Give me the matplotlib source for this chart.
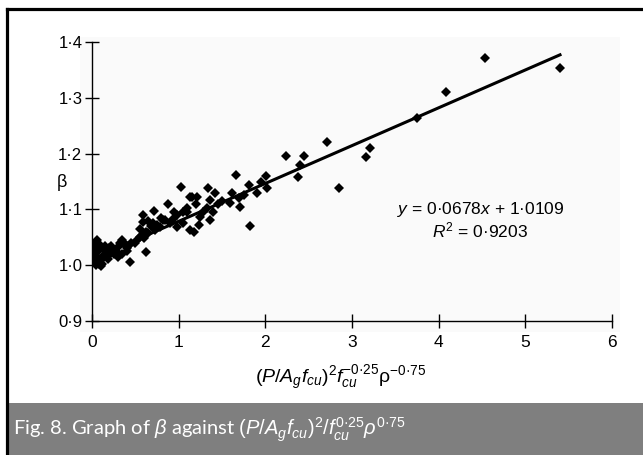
import matplotlib
matplotlib.use("Agg")
import matplotlib.pyplot as plt
import numpy as np
from matplotlib.patches import Rectangle

plt.rcParams['font.family'] = ['Liberation Sans', 'DejaVu Sans']
plt.rcParams['mathtext.fontset'] = 'custom'
plt.rcParams['mathtext.rm'] = 'Liberation Sans'
plt.rcParams['mathtext.it'] = 'Liberation Sans:italic'

# data
x_pts = [0.01, 0.02, 0.02, 0.03, 0.04, 0.05, 0.06, 0.08, 0.05, 0.08, 0.10, 0.12,
         0.10, 0.13, 0.15, 0.17, 0.20, 0.22, 0.25, 0.18, 0.20, 0.25, 0.28, 0.30,
         0.32, 0.35, 0.38, 0.40, 0.42, 0.45, 0.30, 0.35, 0.40, 0.03, 0.07, 0.12,
         0.15, 0.03, 0.44, 0.50, 0.52, 0.55, 0.58, 0.60, 0.62, 0.65, 0.62,
         0.59, 0.59, 0.63, 0.72, 0.73, 0.78, 0.84, 0.88, 0.98, 0.93, 0.82, 0.98,
         0.68, 0.70, 0.75, 0.80, 0.90, 0.95, 0.55, 0.65,
         1.03, 1.10, 1.05, 1.10, 1.13, 1.05, 1.13, 1.21, 1.15, 1.23, 1.25, 1.33,
         1.34, 1.36, 1.36, 1.42, 1.59, 1.61, 1.66, 1.71, 1.81, 1.82, 1.90, 2.01,
         2.02, 1.18, 1.28, 1.45, 1.50, 1.40, 1.20, 1.70, 1.95, 1.75,
         2.24, 2.38, 2.40, 2.45, 2.71, 2.85, 3.16, 3.21, 3.75, 4.09, 4.53, 5.40]
y_pts = [1.005, 1.012, 1.020, 1.028, 1.035, 1.042, 1.045, 1.038, 1.000, 1.003, 0.998, 1.002,
         1.010, 1.015, 1.020, 1.025, 1.030, 1.035, 1.028, 1.012, 1.018, 1.020, 1.025, 1.032,
         1.040, 1.045, 1.038, 1.030, 1.035, 1.040, 1.015, 1.020, 1.025, 1.015, 1.025, 1.030,
         1.035, 1.040, 1.006, 1.040, 1.045, 1.050, 1.055, 1.048, 1.060, 1.058, 1.024,
         1.090, 1.077, 1.058, 1.097, 1.063, 1.068, 1.081, 1.110, 1.090, 1.083, 1.081, 1.068,
         1.070, 1.075, 1.072, 1.085, 1.075, 1.095, 1.065, 1.080,
         1.140, 1.095, 1.095, 1.102, 1.063, 1.076, 1.122, 1.122, 1.122, 1.072, 1.086, 1.102,
         1.138, 1.117, 1.081, 1.129, 1.111, 1.129, 1.162, 1.104, 1.144, 1.070, 1.129, 1.160,
         1.138, 1.060, 1.095, 1.110, 1.115, 1.095, 1.110, 1.120, 1.150, 1.125,
         1.196, 1.158, 1.180, 1.196, 1.221, 1.138, 1.194, 1.210, 1.264, 1.310, 1.371, 1.353]

slope = 0.0678
intercept = 1.0109
r2 = 0.9203

xticks = [0, 1, 2, 3, 4, 5, 6]
yticks = [0.9, 1.0, 1.1, 1.2, 1.3, 1.4]
ytick_labels = ['0·9', '1·0', '1·1', '1·2', '1·3', '1·4']

fig = plt.figure(figsize=(6.43, 4.55), dpi=100)
W, H = 643.0, 455.0

# faint plot panel, frame and caption band
fig.patches.append(Rectangle((80 / W, 1 - 332 / H), 540 / W, 295 / H,
                             transform=fig.transFigure, facecolor='#fafafa',
                             edgecolor='none', zorder=-1))
fig.patches.append(Rectangle((8 / W, 0), 1 - 8 / W, 52 / H, transform=fig.transFigure,
                             facecolor='#7f7f7f', edgecolor='none', zorder=1))
fig.lines.append(plt.Line2D([6.5 / W, 6.5 / W], [0, 1 - 8.5 / H], transform=fig.transFigure,
                            color='black', lw=2.3))
fig.lines.append(plt.Line2D([6.5 / W, 1], [1 - 8.5 / H, 1 - 8.5 / H], transform=fig.transFigure,
                            color='black', lw=2.3))

ax = fig.add_axes([92 / W, 1 - 321 / H, 520 / W, 279 / H])
ax.set_zorder(2)
ax.patch.set_alpha(0)

ax.plot(x_pts, y_pts, 'D', color='black', markersize=5, markeredgewidth=0, zorder=3)
xl = np.array([0, max(x_pts)])
ax.plot(xl, slope * xl + intercept, '-', color='black', lw=2.2, zorder=2)

ax.set_xlim(0, 6)
ax.set_ylim(0.9, 1.4)
ax.set_xticks(xticks)
ax.set_xticklabels([str(t) for t in xticks])
ax.set_yticks(yticks)
ax.set_yticklabels(ytick_labels)
ax.tick_params(direction='inout', length=10, width=1)
ax.tick_params(axis='x', labelsize=12.5, pad=5)
ax.tick_params(axis='y', labelsize=12, pad=2)
for s in ['top', 'right']:
    ax.spines[s].set_visible(False)
for s in ['left', 'bottom']:
    ax.spines[s].set_linewidth(1)

ax.set_xlabel(r'$(P/A_g f_{cu})^2 f_{cu}^{-0·25}\mathrm{ρ}^{-0·75}$', fontsize=14, labelpad=5)
ax.xaxis.set_label_coords(0.478, -0.155)
ax.set_ylabel('β', fontsize=13, rotation=0, va='center')
ax.yaxis.set_label_coords(-0.058, 0.495)

ax.text(4.48, 1.099, r'$y$ = 0·0678$x$ + 1·0109', fontsize=12.5, ha='center', va='center')
ax.text(4.48, 1.063, r'$R^2$ = 0·9203', fontsize=12.5, ha='center', va='center')

fig.text(13 / W, 1 - 430 / H,
         r'Fig. 8. Graph of $\beta$ against $(P/A_{g}f_{cu})^{2}/f_{cu}^{0·25}\rho^{0·75}$',
         color='white', fontsize=14.5, family=['Lato', 'DejaVu Sans'], va='center')

fig.savefig('out.png', dpi=100)
